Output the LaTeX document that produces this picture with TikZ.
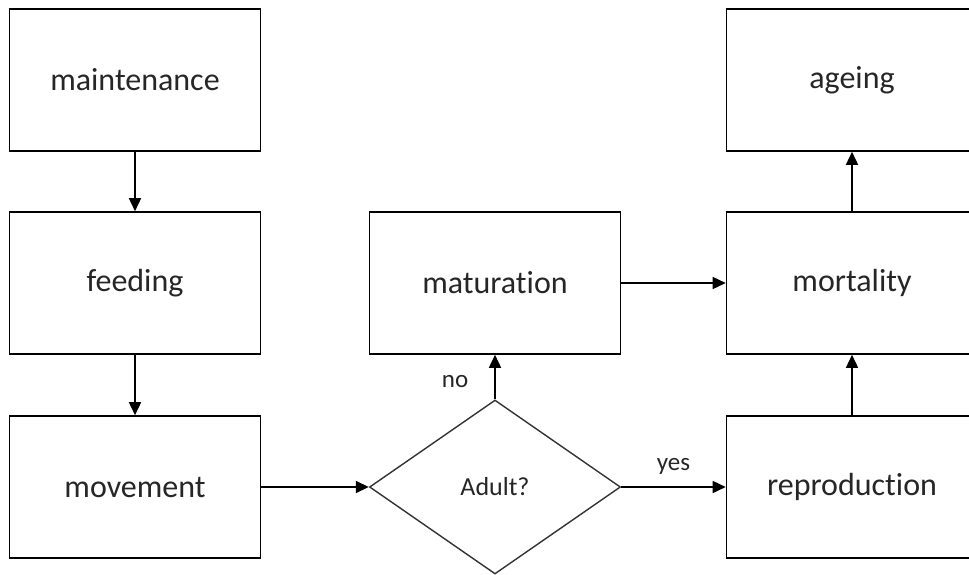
\documentclass[tikz,border=0pt]{standalone}
\usepackage{fontspec}
\setmainfont[RawFeature={-liga;-dlig}]{Carlito}
\usetikzlibrary{shapes.geometric,arrows.meta}
\begin{document}
\begin{tikzpicture}[x=1pt,y=-1pt,
  box/.style={draw=black,line width=1.6pt,minimum width=251pt,minimum height=142pt,inner sep=0pt,font=\fontsize{32}{36}\selectfont,text=black!85},
  decision/.style={draw=black!80,line width=1.4pt,diamond,minimum width=251pt,minimum height=174pt,inner sep=0pt,aspect=1.44,font=\fontsize{26}{30}\selectfont,text=black!85},
  flow/.style={line width=1.6pt,-{Triangle[length=13pt,width=12pt]}},
  lbl/.style={font=\fontsize{25}{30}\selectfont,text=black!85,inner sep=0pt}]
\useasboundingbox (0,0) rectangle (969,574);
\clip (0,0) rectangle (969,574);
\fill[white] (0,0) rectangle (969,574);
\node[box] (maint) at (135,80) {maintenance};
\node[box] (feed) at (135,283) {feeding};
\node[box] (move) at (135,487) {movement};
\node[box] (matur) at (495,283) {maturation};
\node[decision] (adult) at (495,487) {Adult?};
\node[box] (ageing) at (852,80) {ageing};
\node[box] (mort) at (852,283) {mortality};
\node[box] (repro) at (852,487) {reproduction};
\draw[flow] (maint) -- (feed);
\draw[flow] (feed) -- (move);
\draw[flow] (move.east) -- (adult.west);
\draw[flow] (adult.north) -- (adult.north |- matur.south) node[lbl,pos=0.4,left=26pt] (no) {no};
\draw[flow] (adult.east) -- (repro.west) node[lbl,midway,above=12pt] (yes) {yes};
\draw[flow] (matur.east) -- (mort.west);
\draw[flow] (repro) -- (mort);
\draw[flow] (mort) -- (ageing);
\end{tikzpicture}
\end{document}
